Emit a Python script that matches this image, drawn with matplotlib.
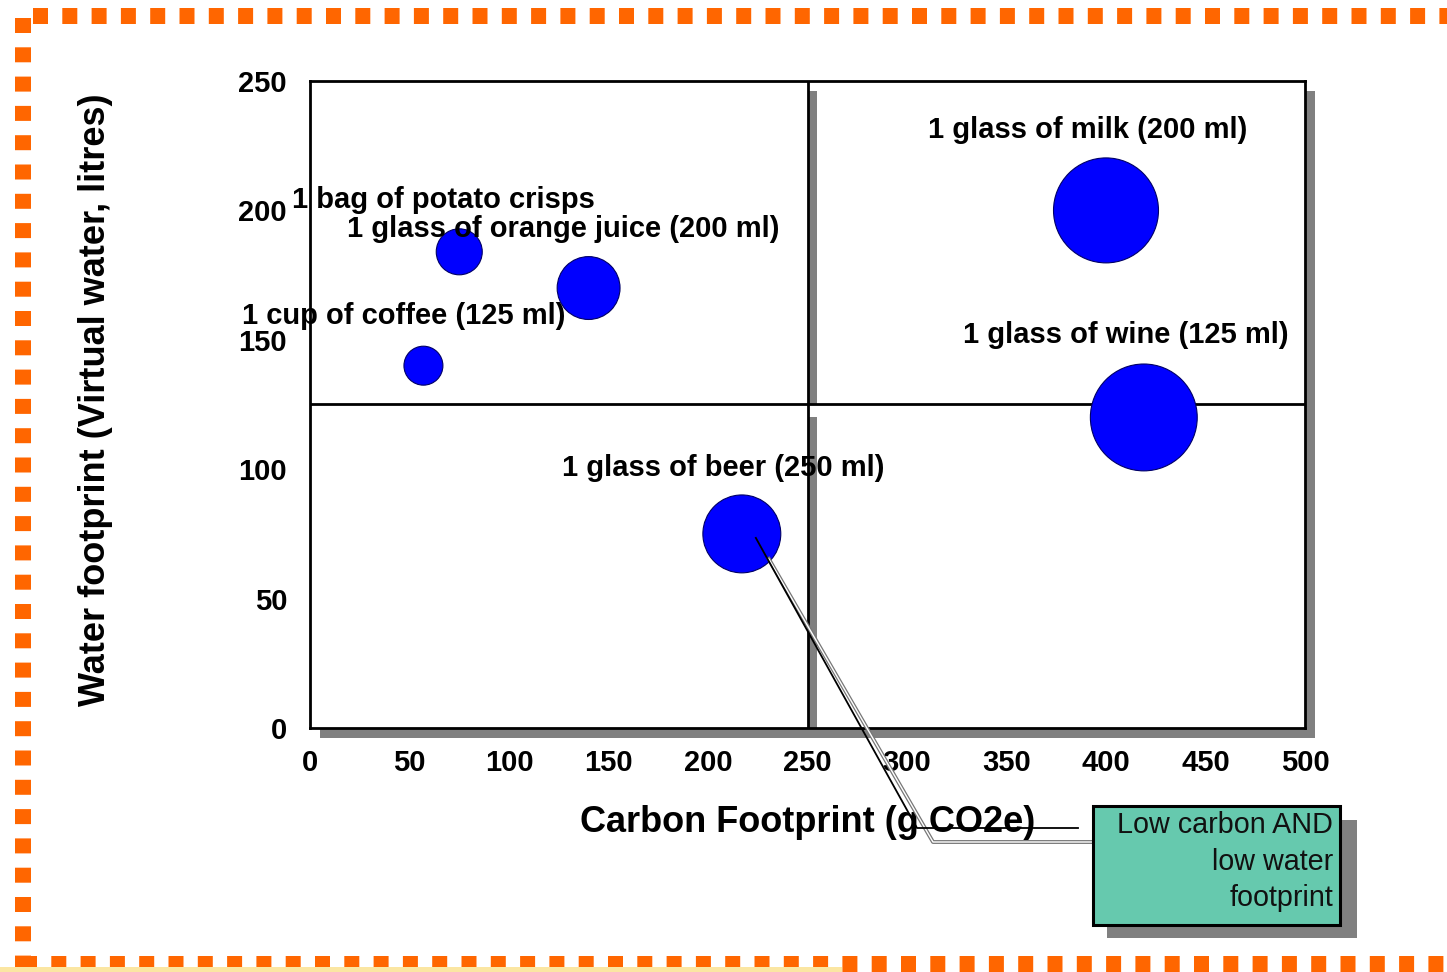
import matplotlib
matplotlib.use('Agg')
import matplotlib.pyplot as plt
from matplotlib.patches import Rectangle
from matplotlib.lines import Line2D

plt.rcParams['font.family'] = ['Liberation Sans', 'DejaVu Sans']

# ---------------- data ----------------
items = ["1 cup of coffee (125 ml)", "1 bag of potato crisps",
         "1 glass of orange juice (200 ml)", "1 glass of beer (250 ml)",
         "1 glass of milk (200 ml)", "1 glass of wine (125 ml)"]
carbon = [57, 75, 140, 217, 400, 419]          # g CO2e
water = [140, 184, 170, 75, 200, 120]          # litres
bubble = [38, 53, 99, 152, 276, 286]           # relative bubble area
x_ticks = [0, 50, 100, 150, 200, 250, 300, 350, 400, 450, 500]
y_ticks = [0, 50, 100, 150, 200, 250]
carbon_split = 250
water_split = 125
callout_text = ["Low carbon AND", "low water", "footprint"]
callout_item = "1 glass of beer (250 ml)"

# ---------------- layout ----------------
W, H = 1447, 972
def fx(px): return px / W
def fy(py): return 1 - py / H

label_dx = [-20, -16, -25, -19, -18, -18]       # pixel offsets of labels
label_dy = [42, 44, 51, 58, 72.5, 74]           # pixels above bubble centre

fig = plt.figure(figsize=(W / 100, H / 100), dpi=100)
fig.patch.set_facecolor('white')
ax = fig.add_axes([fx(310), fy(728), (1305 - 310) / W, (728 - 81) / H])
ax.set_xlim(x_ticks[0], x_ticks[-1])
ax.set_ylim(y_ticks[0], y_ticks[-1])
ax.set_xticks(x_ticks)
ax.set_yticks(y_ticks)
ax.tick_params(length=0, labelsize=21)
ax.tick_params(axis='x', pad=15)
ax.tick_params(axis='y', pad=16.5)
for lab in ax.get_xticklabels() + ax.get_yticklabels():
    lab.set_fontweight('bold')
for sp in ax.spines.values():
    sp.set_linewidth(2.0)
    sp.set_color('black')

# shadows of quadrant boxes
shadow = '#808080'
xmax, ymax = x_ticks[-1], y_ticks[-1]
sx = 5.0   # ~10 px in x data units
sy = 3.9   # ~10 px in y data units
for (x0, y0, w, h) in [
        (carbon_split + 0.5, water_split, sx - 0.5, ymax - sy - water_split),
        (carbon_split + 0.5, -sy, sx - 0.5, water_split - 1.2 * sy + sy),
        (xmax, -sy, sx, ymax),
        (sx, -sy, xmax, sy)]:
    ax.add_patch(Rectangle((x0, y0), w, h, facecolor=shadow, edgecolor='none',
                           clip_on=False, zorder=1))

ax.axvline(carbon_split, color='black', lw=2.0, zorder=2)
ax.axhline(water_split, color='black', lw=2.0, zorder=2)

sizes = [b * 20.7 for b in bubble]
ax.scatter(carbon, water, s=sizes, color='#0000FF', edgecolors='#000066',
           linewidths=0.8, zorder=3)

for name, cx, cy, dx, dy in zip(items, carbon, water, label_dx, label_dy):
    ax.annotate(name, (cx, cy), xytext=(dx, dy), textcoords='offset pixels',
                ha='center', va='baseline', fontsize=21, fontweight='bold',
                color='black', zorder=4, annotation_clip=False)

ax.set_xlabel('Carbon Footprint (g CO2e)', fontsize=26, fontweight='bold')
ax.xaxis.set_label_coords(0.5, (728 - 822) / 647)
ax.xaxis.label.set_va('center')
ax.set_ylabel('Water footprint (Virtual water, litres)', fontsize=26,
              fontweight='bold')
ax.yaxis.set_label_coords((96 - 310) / 995, (728 - 400) / 647)
ax.yaxis.label.set_va('center')

# ---------------- callout ----------------
bi = items.index(callout_item)
bx, by = ax.transData.transform((carbon[bi], water[bi]))
bpx, bpy = bx, H - by
fig.add_artist(Line2D([fx(bpx + 27), fx(933), fx(1093)],
                      [fy(bpy + 25), fy(842), fy(842)],
                      color='#777777', lw=2.8, zorder=5))
fig.add_artist(Line2D([fx(bpx + 27), fx(933), fx(1093)],
                      [fy(bpy + 25), fy(842), fy(842)],
                      color='white', lw=1.0, zorder=5.1))
fig.add_artist(Line2D([fx(bpx + 14), fx(917), fx(1078)],
                      [fy(bpy + 4), fy(828), fy(828)],
                      color='black', lw=1.3, zorder=5.2))

fig.add_artist(Rectangle((fx(1107), fy(938)), (1357 - 1107) / W, (938 - 820) / H,
                         transform=fig.transFigure, facecolor=shadow,
                         edgecolor='none', zorder=6))
fig.add_artist(Rectangle((fx(1093), fy(925)), (1340 - 1093) / W, (925 - 806) / H,
                         transform=fig.transFigure, facecolor='#66C9AE',
                         edgecolor='black', lw=2.2, zorder=7))
for line, base in zip(callout_text, [833, 870, 906]):
    fig.text(fx(1333), fy(base), line, ha='right', va='baseline',
             fontsize=20.7, color='#111111', zorder=8)

# ---------------- page decoration ----------------
orange = '#FF6600'
lw_px = 16
lw_pt = lw_px * 0.72
dash = [15.0 / lw_px, 14.3 / lw_px]
for xs, ys in [([33, W], [16, 16]), ([22.5, 22.5], [18, 968]),
               ([22, W], [964, 964])]:
    ln = Line2D([fx(v) for v in xs], [fy(v) for v in ys], color=orange,
                lw=lw_pt, solid_capstyle='butt', dash_capstyle='butt',
                zorder=9)
    ln.set_dashes(dash)
    fig.add_artist(ln)
fig.add_artist(Rectangle((0, 0), 842 / W, 5 / H, transform=fig.transFigure,
                         facecolor='#FBE6A2', edgecolor='none', zorder=10))

fig.savefig('out.png', dpi=100)
